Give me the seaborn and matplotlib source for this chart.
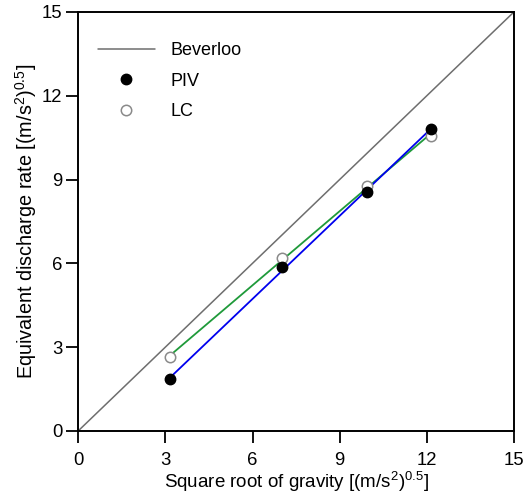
import numpy as np
import pandas as pd
import matplotlib
matplotlib.use("Agg")
import matplotlib.pyplot as plt
import seaborn as sns

# values
sqrt_g = [3.17, 7.02, 9.94, 12.14]
piv = [1.86, 5.87, 8.56, 10.81]
lc = [2.65, 6.19, 8.77, 10.56]
beverloo_x = [0, 15]
ticks = [0, 3, 6, 9, 12, 15]

sns.set_style("ticks")
plt.rcParams['font.family'] = ['Liberation Sans', 'DejaVu Sans']
plt.rcParams['mathtext.fontset'] = 'custom'
plt.rcParams['mathtext.rm'] = 'Liberation Sans'
plt.rcParams['mathtext.default'] = 'regular'
plt.rcParams['text.color'] = 'black'
plt.rcParams['axes.labelcolor'] = 'black'
plt.rcParams['xtick.color'] = 'black'
plt.rcParams['ytick.color'] = 'black'

df = pd.DataFrame({'g': sqrt_g, 'PIV': piv, 'LC': lc})

fig = plt.figure(figsize=(5.25, 4.97), dpi=100)
ax = fig.add_axes([0.149, 0.133, 0.830, 0.843])

ax.plot(beverloo_x, beverloo_x, color='#6e6e6e', lw=1.1, label='Beverloo', zorder=2)

# linear fits through each series
sns.regplot(data=df, x='g', y='LC', scatter=False, ci=None, truncate=True,
            color='#1f9a3a', line_kws={'lw': 1.3, 'zorder': 3}, ax=ax)
sns.regplot(data=df, x='g', y='PIV', scatter=False, ci=None, truncate=True,
            color='#0000ee', line_kws={'lw': 1.3, 'zorder': 3}, ax=ax)

ax.plot(df['g'], df['PIV'], 'o', color='black', ms=7.5, ls='none', label='PIV', zorder=5)
ax.plot(df['g'], df['LC'], 'o', mfc='white', mec='#8a8a8a', mew=1.1, ms=7.5,
        ls='none', label='LC', zorder=4)

ax.set_xlim(0, 15)
ax.set_ylim(0, 15)
ax.set_xticks(ticks)
ax.set_yticks(ticks)
ax.tick_params(direction='out', length=8.5, width=1.3, labelsize=13.3,
               top=False, right=False)
ax.tick_params(axis='x', pad=6.5)
ax.tick_params(axis='y', pad=3)
for s in ax.spines.values():
    s.set_linewidth(1.4)
    s.set_color('black')

ax.set_xlabel(r'Square root of gravity [(m/s$^{2}$)$^{0.5}$]', fontsize=13.5, labelpad=1)
ax.set_ylabel(r'Equivalent discharge rate [(m/s$^{2}$)$^{0.5}$]', fontsize=14.3, labelpad=2)

ax.legend(loc='upper left', frameon=False, fontsize=13, handlelength=3.15,
          handletextpad=0.85, borderaxespad=0.6, labelspacing=0.75,
          bbox_to_anchor=(0.004, 0.971))

fig.savefig('out.png', dpi=100)
